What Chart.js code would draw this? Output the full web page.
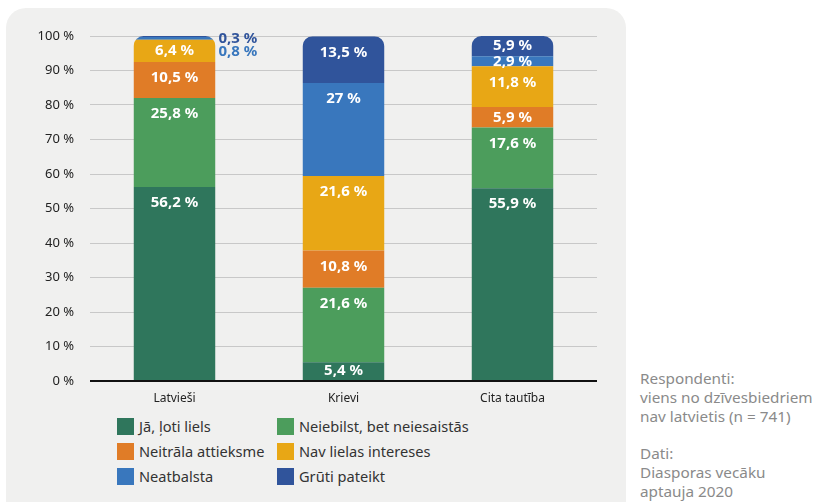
<!DOCTYPE html>
<html>
<head>
<meta charset="utf-8">
<script src="https://cdn.jsdelivr.net/npm/chart.js@4"></script>
<style>
    body { margin: 0; background: #fff; font-family: "Noto Sans", sans-serif; }
    #panel {
        position: absolute; left: 6px; top: 8px; width: 620px; height: 520px;
        background: #f0f0ef; border-radius: 20px;
    }
    #chart { position: absolute; left: 0; top: 0; }
    #legend { position: absolute; left: 111px; top: 408px; width: 420px; }
    .item { position: absolute; font-size: 14.6px; color: #333; line-height: 20px; white-space: nowrap; }
    .item span { display: inline-block; width: 17px; height: 17px; vertical-align: -3px; margin-right: 5px; }
    #notes { position: absolute; left: 640px; top: 369px; font-size: 15.3px; color: #8a8a8a; line-height: 19px; }
    #notes p { margin: 0 0 18px 0; }
</style>
</head>
<body>
<div id="panel">
    <canvas id="chart" width="620" height="400"></canvas>
    <div id="legend"></div>
</div>
<div id="notes">
    <p>Respondenti:<br>viens no dzīvesbiedriem<br>nav latvietis (n = 741)</p>
    <p>Dati:<br>Diasporas vecāku<br>aptauja 2020</p>
</div>
<script>
    const categories = ['Latvieši', 'Krievi', 'Cita tautība'];
    const seriesNames = ['Jā, ļoti liels', 'Neiebilst, bet neiesaistās', 'Neitrāla attieksme',
        'Nav lielas intereses', 'Neatbalsta', 'Grūti pateikt'];
    const seriesColors = ['#2f765c', '#4c9d5c', '#e07c27', '#e8a715', '#3977bd', '#30549b'];
    const veryLarge = [56.2, 5.4, 55.9];
    const noObjection = [25.8, 21.6, 17.6];
    const neutral = [10.5, 10.8, 5.9];
    const notInterested = [6.4, 21.6, 11.8];
    const notSupport = [0.8, 27, 2.9];
    const hardToSay = [0.3, 13.5, 5.9];
    const seriesValues = [veryLarge, noObjection, neutral, notInterested, notSupport, hardToSay];
    const yTicks = [0, 10, 20, 30, 40, 50, 60, 70, 80, 90, 100];

    const fmt = v => String(v).replace('.', ',') + ' %';

    // legend in two columns
    const legendEl = document.getElementById('legend');
    seriesNames.forEach((name, i) => {
        const div = document.createElement('div');
        div.className = 'item';
        div.style.left = (i % 2 === 0 ? 0 : 160) + 'px';
        div.style.top = (Math.floor(i / 2) * 25) + 'px';
        div.innerHTML = '<span style="background:' + seriesColors[i] + '"></span>' + name;
        legendEl.appendChild(div);
    });

    const stackShape = {
        id: 'stackShape',
        beforeDatasetsDraw(chart) {
            const ctx = chart.ctx;
            const y = chart.scales.y;
            const meta = chart.getDatasetMeta(0);
            ctx.save();
            ctx.beginPath();
            categories.forEach((c, i) => {
                const el = meta.data[i];
                const total = seriesValues.reduce((s, arr) => s + arr[i], 0);
                const top = y.getPixelForValue(total);
                const bottom = y.getPixelForValue(0);
                ctx.roundRect(el.x - el.width / 2, top, el.width, bottom - top, [10, 10, 0, 0]);
            });
            ctx.clip();
        },
        afterDatasetsDraw(chart) {
            const ctx = chart.ctx;
            ctx.restore();
            ctx.save();
            ctx.font = 'bold 15px "Noto Sans"';
            ctx.textBaseline = 'middle';
            categories.forEach((c, i) => {
                let outside = 0;
                for (let d = seriesValues.length - 1; d >= 0; d--) {
                    const v = seriesValues[d][i];
                    const el = chart.getDatasetMeta(d).data[i];
                    if (v < 2) {
                        ctx.fillStyle = seriesColors[d];
                        ctx.textAlign = 'left';
                        const top = chart.getDatasetMeta(seriesValues.length - 1).data[i].y;
                        ctx.fillText(fmt(v), el.x + el.width / 2 + 3, top + 3 + outside * 13);
                        outside++;
                        continue;
                    }
                    ctx.fillStyle = '#fff';
                    ctx.textAlign = 'center';
                    const ly = Math.min(el.y + 16, (el.y + el.base) / 2);
                    ctx.fillText(fmt(v), el.x, ly);
                }
            });
            ctx.restore();
        }
    };

    new Chart(document.getElementById('chart'), {
        type: 'bar',
        data: {
            labels: categories,
            datasets: seriesNames.map((name, i) => ({
                label: name,
                data: seriesValues[i],
                backgroundColor: seriesColors[i],
                borderWidth: 0,
                categoryPercentage: 1,
                barPercentage: 0.485
            }))
        },
        options: {
            responsive: false,
            animation: false,
            layout: { padding: { top: 28, right: 29, left: 0, bottom: 0 } },
            plugins: { legend: { display: false }, tooltip: { enabled: false } },
            scales: {
                x: {
                    stacked: true,
                    grid: { display: false },
                    border: { display: false },
                    ticks: { color: '#222', font: { family: 'Noto Sans', size: 12 }, padding: 2 },
                    afterFit(scale) { scale.height = 27; }
                },
                y: {
                    stacked: true,
                    min: 0,
                    max: 100,
                    afterBuildTicks(scale) { scale.ticks = yTicks.map(v => ({ value: v })); },
                    ticks: {
                        color: '#222',
                        font: { family: 'Noto Sans', size: 13 },
                        padding: 16,
                        callback: v => v + ' %'
                    },
                    grid: {
                        drawTicks: false,
                        color: ctx => ctx.tick && ctx.tick.value === 0 ? '#111' : '#c8c8c8',
                        lineWidth: ctx => ctx.tick && ctx.tick.value === 0 ? 2 : 1
                    },
                    border: { display: false },
                    afterFit(scale) { scale.width = 84; }
                }
            }
        },
        plugins: [stackShape]
    });
</script>
</body>
</html>
